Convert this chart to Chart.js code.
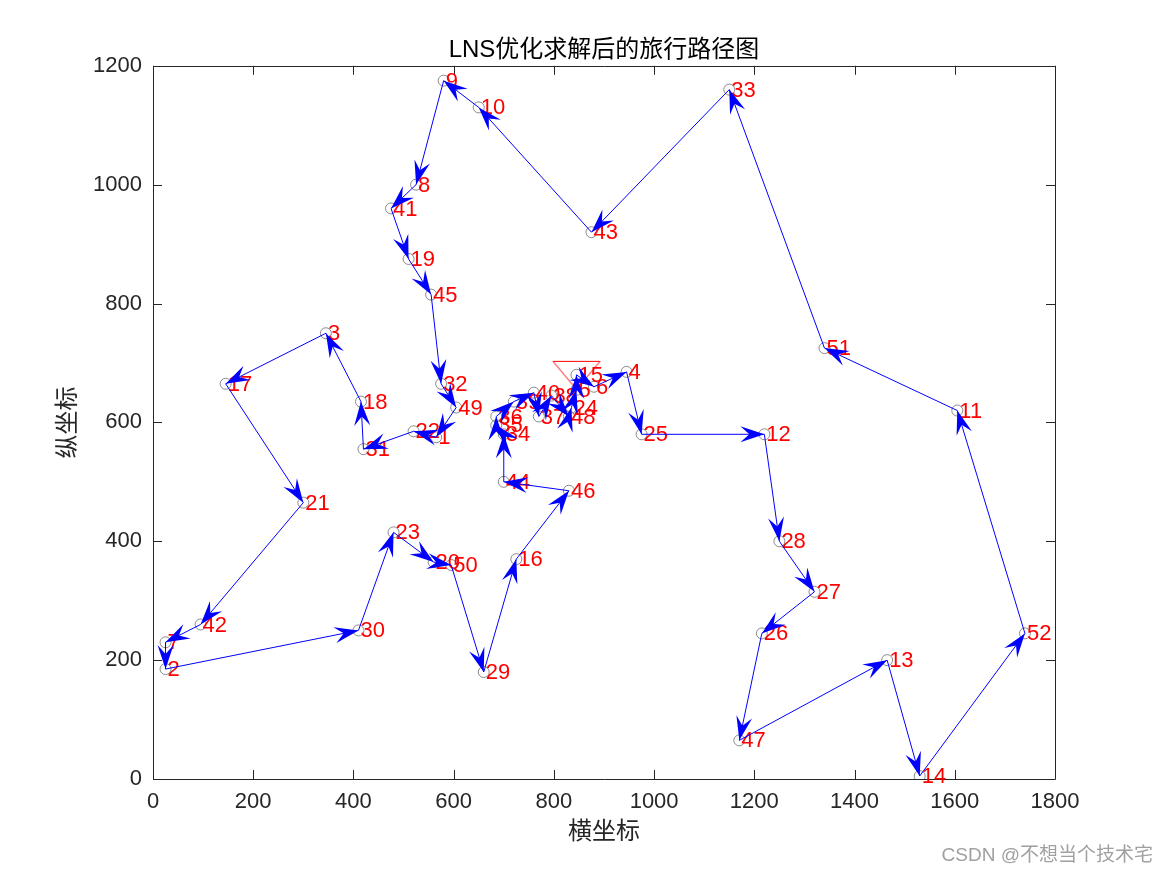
<!DOCTYPE html>
<html>
<head>
<meta charset="utf-8">
<title>LNS tour</title>
<script src="https://cdn.jsdelivr.net/npm/chart.js@4.4.1/dist/chart.umd.min.js"></script>
<style>
  html, body { margin: 0; padding: 0; background: #fff; }
</style>
</head>
<body>
<canvas id="tourChart" width="1167" height="875"></canvas>
<script>
// city coordinates (city n is at index n-1)
const cityX = [565, 25, 345, 945, 845, 880, 25, 525, 580, 650, 1605, 1220, 1465, 1530, 845, 725, 145, 415, 510, 560,
  300, 520, 480, 835, 975, 1215, 1320, 1250, 660, 410, 420, 575, 1150, 700, 685, 685, 770, 795, 720, 760,
  475, 95, 875, 700, 555, 830, 1170, 830, 605, 595, 1340, 1740];
const cityY = [575, 185, 750, 685, 655, 660, 230, 1000, 1175, 1130, 620, 580, 200, 5, 680, 370, 665, 635, 875, 365,
  465, 585, 415, 625, 580, 245, 315, 400, 180, 250, 555, 665, 1160, 580, 595, 610, 610, 645, 635, 650,
  960, 260, 920, 500, 815, 485, 65, 610, 625, 360, 725, 245];
// visiting order after LNS
const tour = [1, 22, 31, 18, 3, 17, 21, 42, 7, 2, 30, 23, 20, 50, 29, 16, 46, 44, 34, 35, 36, 39, 40, 37, 38,
  48, 24, 5, 15, 6, 4, 25, 12, 28, 27, 26, 47, 13, 14, 52, 11, 51, 33, 43, 10, 9, 8, 41, 19, 45, 32, 49, 1];
const startCity = 15;
const xTicks = [0, 200, 400, 600, 800, 1000, 1200, 1400, 1600, 1800];
const yTicks = [0, 200, 400, 600, 800, 1000, 1200];

const FONT = '"Liberation Sans", Arial, "Noto Sans CJK SC", sans-serif';
const AXIS_COLOR = '#262626';

function triangleMarker() {
  const c = document.createElement('canvas');
  c.width = 50;
  c.height = 32;
  const g = c.getContext('2d');
  g.strokeStyle = '#ff0000';
  g.lineWidth = 1;
  g.beginPath();
  g.moveTo(1.5, 2.5);
  g.lineTo(48.5, 2.5);
  g.lineTo(25, 30.5);
  g.closePath();
  g.stroke();
  return c;
}

function drawHead(ctx, x0, y0, x1, y1) {
  const a = Math.atan2(y1 - y0, x1 - x0);
  ctx.save();
  ctx.translate(x1, y1);
  ctx.rotate(a);
  ctx.beginPath();
  ctx.moveTo(0, 0);
  ctx.lineTo(-24, -8);
  ctx.lineTo(-15, 0);
  ctx.lineTo(-24, 8);
  ctx.closePath();
  ctx.fill();
  ctx.restore();
}

const cities = cityX.map((x, i) => ({x: x, y: cityY[i]}));
const route = tour.map(c => ({x: cityX[c - 1], y: cityY[c - 1]}));

const decor = {
  id: 'decor',
  beforeDatasetsDraw(chart) {
    const {ctx, chartArea: a, scales: {x, y}} = chart;
    ctx.save();
    ctx.strokeStyle = AXIS_COLOR;
    ctx.lineWidth = 1;
    ctx.beginPath();
    ctx.rect(Math.round(a.left) + 0.5, Math.round(a.top) + 0.5, Math.round(a.right - a.left), Math.round(a.bottom - a.top));
    xTicks.forEach(v => {
      const px = Math.round(x.getPixelForValue(v)) + 0.5;
      ctx.moveTo(px, a.bottom); ctx.lineTo(px, a.bottom - 9);
      ctx.moveTo(px, a.top); ctx.lineTo(px, a.top + 9);
    });
    yTicks.forEach(v => {
      const py = Math.round(y.getPixelForValue(v)) + 0.5;
      ctx.moveTo(a.left, py); ctx.lineTo(a.left + 9, py);
      ctx.moveTo(a.right, py); ctx.lineTo(a.right - 9, py);
    });
    ctx.stroke();
    ctx.restore();
  },
  beforeDatasetDraw(chart, args) {
    if (args.index !== 2) return;
    const {ctx, scales: {x, y}} = chart;
    ctx.save();
    ctx.fillStyle = '#ff0000';
    ctx.font = '22px ' + FONT;
    ctx.textAlign = 'left';
    ctx.textBaseline = 'middle';
    cityX.forEach((cx, i) => {
      ctx.fillText(String(i + 1), x.getPixelForValue(cx) + 2, y.getPixelForValue(cityY[i]) + 1);
    });
    ctx.restore();
  },
  afterDatasetDraw(chart, args) {
    if (args.index !== 2) return;
    const ctx = chart.ctx;
    const pts = args.meta.data;
    ctx.save();
    ctx.fillStyle = '#0000ff';
    for (let i = 1; i < pts.length; i++) {
      drawHead(ctx, pts[i - 1].x, pts[i - 1].y, pts[i].x, pts[i].y);
    }
    ctx.restore();
  },
  afterDraw(chart) {
    const ctx = chart.ctx;
    ctx.save();
    ctx.fillStyle = '#a0a0a0';
    ctx.font = '19px ' + FONT;
    ctx.textAlign = 'right';
    ctx.textBaseline = 'middle';
    ctx.fillText('CSDN @不想当个技术宅', 1153, 856);
    ctx.restore();
  }
};

new Chart(document.getElementById('tourChart'), {
  type: 'scatter',
  data: {
    datasets: [
      {
        label: 'start',
        data: [{x: cityX[startCity - 1], y: cityY[startCity - 1]}],
        pointStyle: triangleMarker(),
        order: 3
      },
      {
        label: 'cities',
        data: cities,
        pointStyle: 'circle',
        pointRadius: 5.5,
        borderColor: '#6e6e6e',
        backgroundColor: 'rgba(0,0,0,0)',
        borderWidth: 0.8,
        order: 2
      },
      {
        label: 'route',
        data: route,
        showLine: true,
        borderColor: '#0000ff',
        borderWidth: 1,
        pointRadius: 0,
        fill: false,
        order: 1
      }
    ]
  },
  options: {
    responsive: false,
    devicePixelRatio: 1,
    animation: false,
    events: [],
    layout: { padding: { left: 0, right: 112, top: 0, bottom: 0 } },
    plugins: {
      legend: { display: false },
      tooltip: { enabled: false },
      title: {
        display: true,
        text: 'LNS优化求解后的旅行路径图',
        fullSize: false,
        color: '#000',
        font: { size: 24, weight: 'normal', family: FONT },
        padding: { top: 36, bottom: 1 }
      }
    },
    scales: {
      x: {
        type: 'linear',
        min: 0,
        max: 1800,
        afterBuildTicks: s => { s.ticks = xTicks.map(v => ({value: v})); },
        afterFit: s => { s.height = 96; },
        grid: { display: false, drawTicks: false },
        border: { display: false },
        ticks: { padding: 10, color: AXIS_COLOR, font: { size: 22, family: FONT }, maxRotation: 0, autoSkip: false,
          callback: v => String(v) },
        title: { display: true, text: '横坐标', color: AXIS_COLOR, font: { size: 24, family: FONT }, padding: { top: 0, bottom: 28 } }
      },
      y: {
        type: 'linear',
        min: 0,
        max: 1200,
        afterBuildTicks: s => { s.ticks = yTicks.map(v => ({value: v})); },
        afterFit: s => { s.width = 153; },
        grid: { display: false, drawTicks: false },
        border: { display: false },
        ticks: { padding: 11, color: AXIS_COLOR, font: { size: 22, family: FONT }, autoSkip: false,
          callback: v => String(v) },
        title: { display: true, text: '纵坐标', color: AXIS_COLOR, font: { size: 24, family: FONT }, padding: { top: 54, bottom: 0 } }
      }
    }
  },
  plugins: [decor]
});
</script>
</body>
</html>
